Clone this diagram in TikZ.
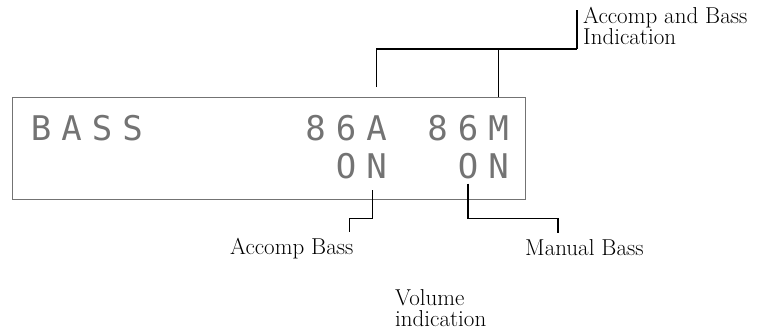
\documentclass[tikz,border=0pt]{standalone}
\usepackage{fontspec}
\newfontfamily\lcdfont{DejaVu Sans Mono}
\usetikzlibrary{positioning}

\begin{document}
\begin{tikzpicture}[
  x=1pt, y=-1pt,
  lcdbox/.style={draw=black!55, line width=0.9pt, inner sep=0pt,
    minimum width=513pt, minimum height=102pt},
  lcdchar/.style={inner sep=0pt, anchor=base, text=black!55,
    font=\lcdfont\fontsize{34}{34}\selectfont},
  lbl/.style={inner sep=0pt, align=left,
    font=\fontsize{23}{21}\selectfont},
  leader/.style={line width=1.1pt}
]
\useasboundingbox (0,0) rectangle (765,333);
\node[lcdbox] (box) at (268.5,148) {};
% display characters, one per column
\foreach \col/\ch in {0/B,1/A,2/S,3/S,9/8,10/6,11/A,13/8,14/6,15/M}
  \node[lcdchar] (t\col) at (41+30.5*\col,140) {\ch};
\foreach \col/\ch in {10/O,11/N,14/O,15/N}
  \node[lcdchar] (u\col) at (41+30.5*\col,178) {\ch};
% labels
\node[lbl, anchor=north west] (ind) at (583,7) {Accomp and Bass\\Indication};
\node[lbl, anchor=base west] (acb) at (230,254) {Accomp Bass};
\node[lbl, anchor=base west] (mnb) at (525,255) {Manual Bass};
\node[lbl, anchor=north west] (vol) at (395,289) {Volume\\indication};
% leaders
\coordinate (brk) at (577,49);
\draw[leader] ([yshift=28pt]t11.north) |- (brk);
\draw[leader] (t15.north |- box.north) -- (t15.north |- brk);
\draw[leader] (brk) -- ([yshift=-3pt]brk |- ind.north);
\draw[leader] ([xshift=-4pt,yshift=-12pt]u11.south) -- ++(0,28)
  -| ([xshift=-4pt,yshift=6pt]acb.north east);
\draw[leader] ([yshift=-5pt]u14.south) -- ++(0,35)
  -| ([xshift=33pt,yshift=6pt]mnb.north west);
\end{tikzpicture}
\end{document}
